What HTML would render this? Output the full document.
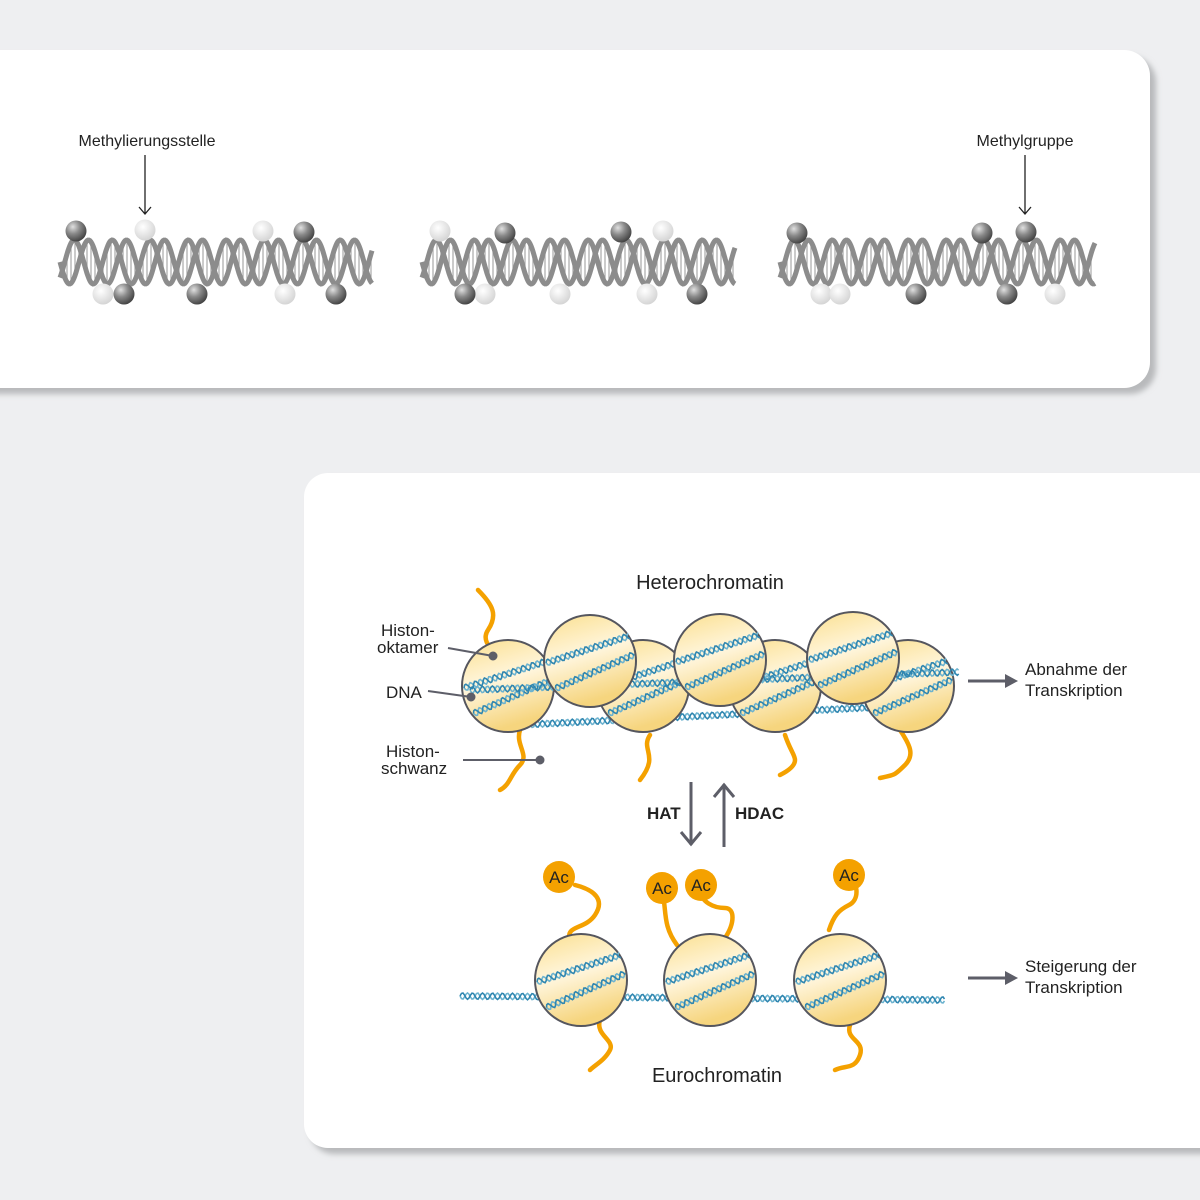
<!DOCTYPE html>
<html><head><meta charset="utf-8"><style>
html,body{margin:0;padding:0;background:#eeeff1;width:1200px;height:1200px;overflow:hidden;font-family:"Liberation Sans",sans-serif}
</style></head><body>
<svg id="s" width="1200" height="1200" viewBox="0 0 1200 1200" xmlns="http://www.w3.org/2000/svg">
<defs>
<radialGradient id="dk" cx="0.35" cy="0.3" r="0.75"><stop offset="0" stop-color="#e0e0e0"/><stop offset="0.45" stop-color="#8a8a8a"/><stop offset="1" stop-color="#3e3e3e"/></radialGradient>
<radialGradient id="lt" cx="0.4" cy="0.35" r="0.7"><stop offset="0" stop-color="#ffffff"/><stop offset="1" stop-color="#d2d2d2"/></radialGradient>
<linearGradient id="nuc" x1="0" y1="0" x2="0.3" y2="1"><stop offset="0" stop-color="#fbdf8e"/><stop offset="0.5" stop-color="#fff6de"/><stop offset="1" stop-color="#f6d57e"/></linearGradient>
<filter id="sh" x="-10%" y="-10%" width="130%" height="130%"><feDropShadow dx="6" dy="6" stdDeviation="3" flood-color="#b8b9bb" flood-opacity="1"/></filter>
</defs>
<rect x="-40" y="50" width="1190" height="338" rx="26" fill="#fff" filter="url(#sh)"/>
<rect x="304" y="473" width="940" height="675" rx="24" fill="#fff" filter="url(#sh)"/>
<g id="topg"></g>
<text x="147" y="146" font-size="16" text-anchor="middle" fill="#222">Methylierungsstelle</text>
<text x="1025" y="146" font-size="16" text-anchor="middle" fill="#222">Methylgruppe</text>
<g stroke="#222" stroke-width="1.3" fill="none">
<path d="M145 155V213M139 207l6 7 6-7"/>
<path d="M1025 155V213M1019 207l6 7 6-7"/>
</g>
<g id="botg"></g>
<text x="710" y="589" font-size="20" text-anchor="middle" fill="#222">Heterochromatin</text>
<text x="717" y="1082" font-size="20" text-anchor="middle" fill="#222">Eurochromatin</text>
<g font-size="17" fill="#222">
<text x="381" y="636">Histon-</text><text x="377" y="653">oktamer</text>
<text x="386" y="698">DNA</text>
<text x="386" y="757">Histon-</text><text x="381" y="774">schwanz</text>
<text x="1025" y="675">Abnahme der</text><text x="1025" y="696">Transkription</text>
<text x="1025" y="972">Steigerung der</text><text x="1025" y="993">Transkription</text>
</g>
<g font-size="17" font-weight="bold" fill="#222"><text x="647" y="819">HAT</text><text x="735" y="819">HDAC</text></g>
<g stroke="#5d5e68" stroke-width="3" fill="none">
<path d="M691 782V845M681 832l10 12 10-12"/>
<path d="M724 847V784M714 797l10-12 10 12"/>
<path d="M968 681H1008"/><path d="M968 978H1008"/>
</g>
<path d="M1005 674l13 7-13 7z M1005 971l13 7-13 7z" fill="#5d5e68"/>
<g id="ptr" stroke="#5d5e68" stroke-width="2" fill="#5d5e68">
<line x1="448" y1="648" x2="493" y2="656"/><circle cx="493" cy="656" r="3.5"/>
<line x1="428" y1="691" x2="471" y2="697"/><circle cx="471" cy="697" r="3.5"/>
<line x1="463" y1="760" x2="540" y2="760"/><circle cx="540" cy="760" r="3.5"/>
</g>
</svg>
<script>
(function(){
const NS="http://www.w3.org/2000/svg";
function el(p,t,a){const e=document.createElementNS(NS,t);for(const k in a)e.setAttribute(k,a[k]);p.appendChild(e);return e;}
const tg=document.getElementById('topg');
function helix(x0,x1,cy){
  const A=22,P=38;
  for(let x=x0+3;x<x1;x+=4){
    const y1=cy+A*Math.sin((x-x0)/P*2*Math.PI),y2=cy+A*Math.sin((x-x0)/P*2*Math.PI+Math.PI*0.75);
    el(tg,'line',{x1:x,x2:x,y1:y1,y2:y2,stroke:'#a8a8a8','stroke-width':1.2});
  }
  for(const ph of [0,Math.PI*0.75]){
    let d="";
    for(let x=x0;x<=x1;x+=1){const y=cy+A*Math.sin((x-x0)/P*2*Math.PI+ph);d+=(x==x0?"M":"L")+x+" "+y.toFixed(1);}
    el(tg,'path',{d:d,stroke:'#8c8c8c','stroke-width':5,fill:'none'});
  }
}
helix(60,372,262);helix(422,735,262);helix(780,1095,262);
const dark=[[76,231],[304,232],[124,294],[197,294],[336,294],[505,233],[621,232],[465,294],[697,294],[797,233],[982,233],[1026,232],[916,294],[1007,294]];
const light=[[145,230],[263,231],[103,294],[285,294],[440,231],[663,231],[485,294],[560,294],[647,294],[821,294],[840,294],[1055,294]];
light.forEach(p=>el(tg,'circle',{cx:p[0],cy:p[1],r:10.5,fill:'url(#lt)'}));
dark.forEach(p=>el(tg,'circle',{cx:p[0],cy:p[1],r:10.5,fill:'url(#dk)'}));
const bg=document.getElementById('botg');
function dna(x0,y0,x1,y1,g){
  const L=Math.hypot(x1-x0,y1-y0),ux=(x1-x0)/L,uy=(y1-y0)/L,nx=-uy,ny=ux;
  for(const ph of [0,Math.PI]){let d="";
    for(let t=0;t<=L;t+=1.5){const o=3.2*Math.sin(t/10*2*Math.PI+ph);d+=(t==0?"M":"L")+(x0+ux*t+nx*o).toFixed(1)+" "+(y0+uy*t+ny*o).toFixed(1);}
    el(g,'path',{d:d,stroke:ph?'#2f86b0':'#6db3cf','stroke-width':1.6,fill:'none'});}
}
function tail(d){el(bg,'path',{d:d,stroke:'#f4a100','stroke-width':4.5,fill:'none','stroke-linecap':'round'});}
function nuc(cx,cy,r){
  el(bg,'circle',{cx:cx,cy:cy,r:r,fill:'url(#nuc)',stroke:'#55565e','stroke-width':2});
  dna(cx-r+2,cy+2,cx+r-6,cy-r*0.55,bg);
  dna(cx-r*0.75,cy+r*0.6,cx+r-1,cy-r*0.15,bg);
}
tail("M478 590c15 15 20 25 10 40s15 25 10 30");
tail("M520 730c-5 15 10 25 0 35s-10 20-20 25");
tail("M650 735c-10 15 10 20-10 45");
tail("M785 735c5 15 10 20 10 25s-5 10-15 15");
tail("M900 730c10 15 15 25 5 35s-10 10-25 13");
dna(520,725,920,705,bg);
[[508,686],[643,686],[775,686],[908,686]].forEach(p=>nuc(p[0],p[1],46));
dna(470,690,960,672,bg);
[[590,661],[720,660],[853,658]].forEach(p=>nuc(p[0],p[1],46));
dna(460,996,945,1000,bg);
tail("M575 885c20 5 30 15 20 30s-30 10-25 25");
tail("M662 890c5 20 0 35 15 55");
tail("M700 888c0 15 15 20 25 20s10 15 0 30");
tail("M849 875c10 10 10 25 0 30s-15 10-20 25");
tail("M600 1020c-5 15 15 20 10 30s-15 15-20 20");
tail("M850 1025c-5 15 15 15 10 30s-15 10-25 15");
[[581,980],[710,980],[840,980]].forEach(p=>nuc(p[0],p[1],46));
[[559,877],[662,888],[701,885],[849,875]].forEach(p=>{
  el(bg,'circle',{cx:p[0],cy:p[1],r:16,fill:'#f4a100'});
  const t=el(bg,'text',{x:p[0],y:p[1]+6,'font-size':17,'text-anchor':'middle',fill:'#222'});t.textContent='Ac';
});
const s=document.getElementById('s');s.appendChild(document.getElementById('ptr'));
})();
</script>
</body></html>
